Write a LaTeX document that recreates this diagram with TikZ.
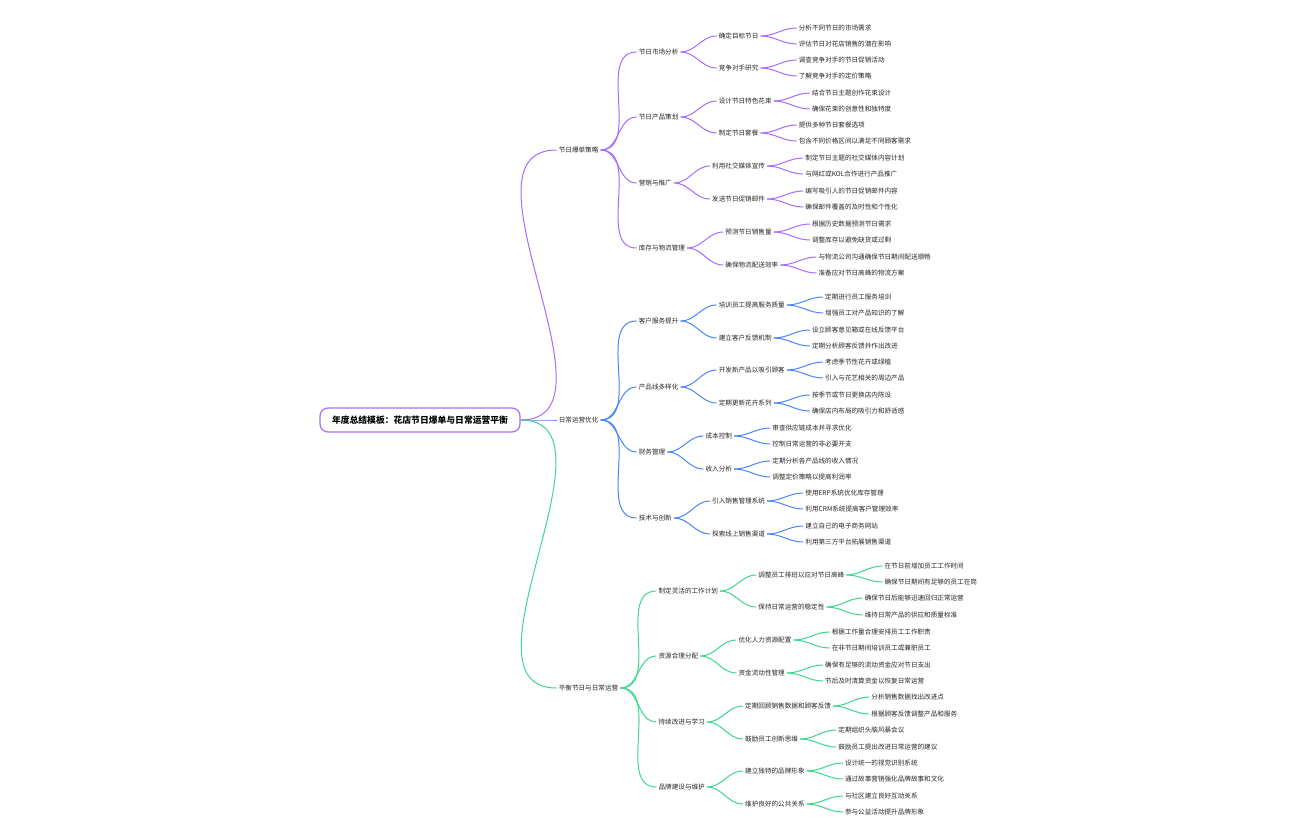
\documentclass[tikz,border=0pt]{standalone}
\usepackage{fontspec}
\setmainfont{Noto Sans CJK SC}
\definecolor{cp}{HTML}{A66CFF}
\definecolor{cb}{HTML}{4A86F7}
\definecolor{cg}{HTML}{3DD68C}
\newcommand\kid[5]{%
 \path (#2.east) ++(36,0) coordinate (tmpc);
 \node[lab,anchor=west] (#1) at (tmpc |- 0,#3) {#4};
 \draw[#5,line width=1pt] (#2.east) to[out=0,in=180] (#1.west);}
\begin{document}
\begin{tikzpicture}[x=1pt,y=-1pt,
 lab/.style={inner sep=2pt,font=\fontsize{6.6}{8}\selectfont,text=black!85}]
\useasboundingbox (0,0) rectangle (1296,840);
\node[draw=cp,line width=1.2pt,rounded corners=8pt,fill=white,minimum width=200pt,minimum height=24pt,font=\fontsize{8.8}{10}\bfseries\selectfont] (r) at (420,420) {年度总结模板：花店节日爆单与日常运营平衡};
% purple
\kid{a}{r}{150}{节日爆单策略}{cp}
\kid{a1}{a}{52}{节日市场分析}{cp}
\kid{a11}{a1}{36}{确定目标节日}{cp}
\kid{a111}{a11}{28}{分析不同节日的市场需求}{cp}
\kid{a112}{a11}{44}{评估节日对花店销售的潜在影响}{cp}
\kid{a12}{a1}{68}{竞争对手研究}{cp}
\kid{a121}{a12}{60}{调查竞争对手的节日促销活动}{cp}
\kid{a122}{a12}{76}{了解竞争对手的定价策略}{cp}
\kid{a2}{a}{117}{节日产品策划}{cp}
\kid{a21}{a2}{101}{设计节日特色花束}{cp}
\kid{a211}{a21}{93}{结合节日主题创作花束设计}{cp}
\kid{a212}{a21}{109}{确保花束的创意性和独特度}{cp}
\kid{a22}{a2}{133}{制定节日套餐}{cp}
\kid{a221}{a22}{125}{提供多种节日套餐选项}{cp}
\kid{a222}{a22}{141}{包含不同价格区间以满足不同顾客需求}{cp}
\kid{a3}{a}{183}{营销与推广}{cp}
\kid{a31}{a3}{166}{利用社交媒体宣传}{cp}
\kid{a311}{a31}{158}{制定节日主题的社交媒体内容计划}{cp}
\kid{a312}{a31}{174}{与网红或KOL合作进行产品推广}{cp}
\kid{a32}{a3}{199}{发送节日促销邮件}{cp}
\kid{a321}{a32}{191}{编写吸引人的节日促销邮件内容}{cp}
\kid{a322}{a32}{207}{确保邮件覆盖的及时性和个性化}{cp}
\kid{a4}{a}{248}{库存与物流管理}{cp}
\kid{a41}{a4}{232}{预测节日销售量}{cp}
\kid{a411}{a41}{224}{根据历史数据预测节日需求}{cp}
\kid{a412}{a41}{240}{调整库存以避免缺货或过剩}{cp}
\kid{a42}{a4}{265}{确保物流配送效率}{cp}
\kid{a421}{a42}{257}{与物流公司沟通确保节日期间配送顺畅}{cp}
\kid{a422}{a42}{273}{准备应对节日高峰的物流方案}{cp}
% blue
\kid{b}{r}{420}{日常运营优化}{cb}
\kid{b1}{b}{321}{客户服务提升}{cb}
\kid{b11}{b1}{305}{培训员工提高服务质量}{cb}
\kid{b111}{b11}{297}{定期进行员工服务培训}{cb}
\kid{b112}{b11}{313}{增强员工对产品知识的了解}{cb}
\kid{b12}{b1}{338}{建立客户反馈机制}{cb}
\kid{b121}{b12}{330}{设立顾客意见箱或在线反馈平台}{cb}
\kid{b122}{b12}{346}{定期分析顾客反馈并作出改进}{cb}
\kid{b2}{b}{387}{产品线多样化}{cb}
\kid{b21}{b2}{370}{开发新产品以吸引顾客}{cb}
\kid{b211}{b21}{362}{考虑季节性花卉或绿植}{cb}
\kid{b212}{b21}{378}{引入与花艺相关的周边产品}{cb}
\kid{b22}{b2}{403}{定期更新花卉系列}{cb}
\kid{b221}{b22}{395}{按季节或节日更换店内陈设}{cb}
\kid{b222}{b22}{411}{确保店内布局的吸引力和舒适感}{cb}
\kid{b3}{b}{452}{财务管理}{cb}
\kid{b31}{b3}{436}{成本控制}{cb}
\kid{b311}{b31}{428}{审查供应链成本并寻求优化}{cb}
\kid{b312}{b31}{444}{控制日常运营的非必要开支}{cb}
\kid{b32}{b3}{469}{收入分析}{cb}
\kid{b321}{b32}{461}{定期分析各产品线的收入情况}{cb}
\kid{b322}{b32}{477}{调整定价策略以提高利润率}{cb}
\kid{b4}{b}{518}{技术与创新}{cb}
\kid{b41}{b4}{501}{引入销售管理系统}{cb}
\kid{b411}{b41}{493}{使用ERP系统优化库存管理}{cb}
\kid{b412}{b41}{509}{利用CRM系统提高客户管理效率}{cb}
\kid{b42}{b4}{534}{探索线上销售渠道}{cb}
\kid{b421}{b42}{526}{建立自己的电子商务网站}{cb}
\kid{b422}{b42}{542}{利用第三方平台拓展销售渠道}{cb}
% green
\kid{c}{r}{688}{平衡节日与日常运营}{cg}
\kid{c1}{c}{591}{制定灵活的工作计划}{cg}
\kid{c11}{c1}{575}{调整员工排班以应对节日高峰}{cg}
\kid{c111}{c11}{566}{在节日前增加员工工作时间}{cg}
\kid{c112}{c11}{582}{确保节日期间有足够的员工在岗}{cg}
\kid{c12}{c1}{607}{保持日常运营的稳定性}{cg}
\kid{c121}{c12}{598}{确保节日后能够迅速回归正常运营}{cg}
\kid{c122}{c12}{615}{维持日常产品的供应和质量标准}{cg}
\kid{c2}{c}{656}{资源合理分配}{cg}
\kid{c21}{c2}{640}{优化人力资源配置}{cg}
\kid{c211}{c21}{632}{根据工作量合理安排员工工作职责}{cg}
\kid{c212}{c21}{648}{在非节日期间培训员工或兼职员工}{cg}
\kid{c22}{c2}{673}{资金流动性管理}{cg}
\kid{c221}{c22}{665}{确保有足够的流动资金应对节日支出}{cg}
\kid{c222}{c22}{681}{节后及时清算资金以恢复日常运营}{cg}
\kid{c3}{c}{722}{持续改进与学习}{cg}
\kid{c31}{c3}{706}{定期回顾销售数据和顾客反馈}{cg}
\kid{c311}{c31}{697}{分析销售数据找出改进点}{cg}
\kid{c312}{c31}{714}{根据顾客反馈调整产品和服务}{cg}
\kid{c32}{c3}{739}{鼓励员工创新思维}{cg}
\kid{c321}{c32}{730}{定期组织头脑风暴会议}{cg}
\kid{c322}{c32}{747}{鼓励员工提出改进日常运营的建议}{cg}
\kid{c4}{c}{787}{品牌建设与维护}{cg}
\kid{c41}{c4}{771}{建立独特的品牌形象}{cg}
\kid{c411}{c41}{763}{设计统一的视觉识别系统}{cg}
\kid{c412}{c41}{779}{通过故事营销强化品牌故事和文化}{cg}
\kid{c42}{c4}{804}{维护良好的公共关系}{cg}
\kid{c421}{c42}{796}{与社区建立良好互动关系}{cg}
\kid{c422}{c42}{812}{参与公益活动提升品牌形象}{cg}
\end{tikzpicture}
\end{document}
